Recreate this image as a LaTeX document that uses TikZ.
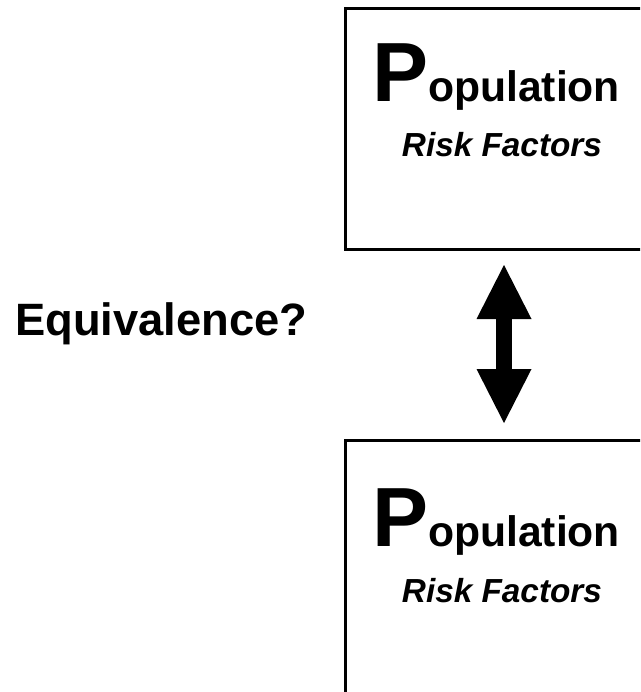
\documentclass[tikz,border=0pt]{standalone}
\usepackage{fontspec}
\setmainfont{Liberation Sans}
\usetikzlibrary{arrows.meta}
\begin{document}
\begin{tikzpicture}[x=0.75pt,y=-0.75pt]
\clip (0,0) rectangle (640,692);
% boxes, both run off the right side
\node[draw, line width=2pt, anchor=north west, inner sep=0pt, minimum width=237pt, minimum height=180.75pt] (popA) at (344,7) {};
\node[draw, line width=2pt, anchor=north west, inner sep=0pt, minimum width=237pt, minimum height=200pt] (popB) at (344,439) {};

\node[anchor=base, inner sep=0pt, font=\bfseries] (popAtitle) at (496,101) {{\fontsize{63}{63}\selectfont P}{\fontsize{32}{32}\selectfont opulation}};
\node[anchor=base, inner sep=0pt, font=\bfseries\itshape\fontsize{25}{25}\selectfont] (popArisk) at (502,156) {Risk Factors};
\node[anchor=base, inner sep=0pt, font=\bfseries] (popBtitle) at (496,546) {{\fontsize{63}{63}\selectfont P}{\fontsize{32}{32}\selectfont opulation}};
\node[anchor=base, inner sep=0pt, font=\bfseries\itshape\fontsize{25}{25}\selectfont] (popBrisk) at (502,602) {Risk Factors};

\node[anchor=base west, inner sep=0pt, font=\bfseries\fontsize{34}{34}\selectfont] (equiv) at (15,335) {Equivalence?};

% the double arrow between the boxes
\coordinate (uptip) at (504,265);
\coordinate (downtip) at (504,423);
\draw[line width=12pt, {Triangle[width=41.25pt, length=40.5pt, line width=0pt]}-{Triangle[width=41.25pt, length=40.5pt, line width=0pt]}] (uptip)--(downtip);
\end{tikzpicture}
\end{document}
